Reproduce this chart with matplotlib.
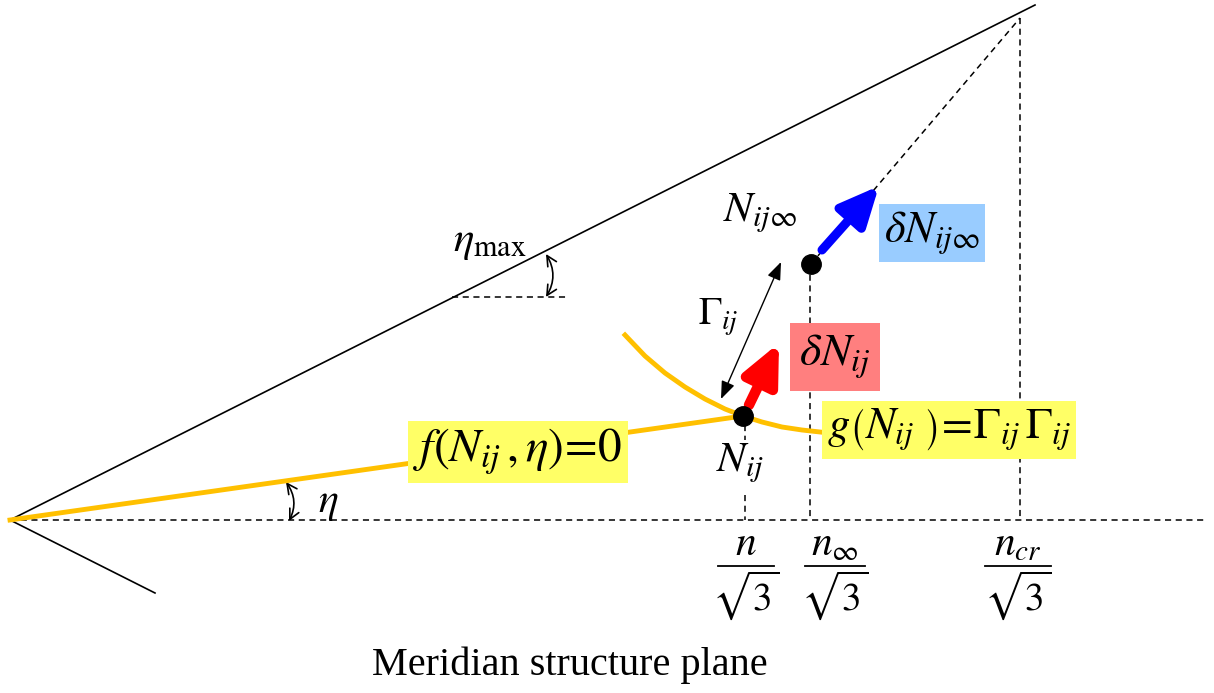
import matplotlib.pyplot as plt
from matplotlib.patches import FancyArrowPatch

plt.rcParams['mathtext.fontset'] = 'stix'
plt.rcParams['font.family'] = ['Liberation Serif', 'DejaVu Serif']

# key points of the diagram (pixel coords, y downward)
origin = (10, 520)
upper_end = (1035, 5)
lower_end = (155, 593)
apex = (1020, 18)
n_ij = (743, 416)
n_inf = (811, 264)
axis_end = 1205
x_marks = [745, 810, 1020]
frac_centers = [746, 835, 1018]
frac_half_widths = [28, 30, 33]
frac_nums = [r'$n$', r'$n_{\infty}$', r'$n_{cr}$']
g_curve_x = [625, 645, 665, 685, 705, 725, 743, 762, 782, 802, 820]
g_curve_y = [335, 356, 373, 387, 399, 409, 416, 422, 427, 430, 432]

fig = plt.figure(figsize=(12.14, 6.93), dpi=100)
ax = fig.add_axes([0, 0, 1, 1])
ax.set_xlim(0, 1214)
ax.set_ylim(693, 0)
ax.axis('off')

# solid boundary lines
ax.plot([origin[0], upper_end[0]], [origin[1], upper_end[1]], color='black', lw=1.2)
ax.plot([origin[0], lower_end[0]], [origin[1], lower_end[1]], color='black', lw=1.2)

# dashed construction lines
dash = dict(color='black', lw=1.1, ls=(0, (4, 3)))
ax.plot([origin[0], axis_end], [origin[1], origin[1]], **dash)
ax.plot([n_inf[0], apex[0]], [n_inf[1], apex[1]], **dash)
ax.plot([x_marks[2], x_marks[2]], [apex[1], origin[1]], **dash)
ax.plot([x_marks[1], x_marks[1]], [n_inf[1], origin[1]], **dash)
ax.plot([x_marks[0], x_marks[0]], [425, 440], **dash)
ax.plot([x_marks[0], x_marks[0]], [495, 520], **dash)
ax.plot([452, 568], [297, 297], **dash)

# yellow curves
ax.plot([origin[0], n_ij[0]], [origin[1], n_ij[1]], color='#FFC000', lw=3.5, zorder=3)
ax.plot(g_curve_x, g_curve_y, color='#FFC000', lw=3.5, zorder=3)

# points
ax.plot(*n_ij, 'o', color='black', ms=14, zorder=6)
ax.plot(*n_inf, 'o', color='black', ms=14, zorder=6)

# thick arrows
ax.add_patch(FancyArrowPatch((749, 405), (779, 343), arrowstyle='-|>,head_width=0.6,head_length=1.3',
                             mutation_scale=18, lw=7.5, color='#FF0000', zorder=5, shrinkA=0, shrinkB=0))
ax.add_patch(FancyArrowPatch((822, 250), (879, 186), arrowstyle='-|>,head_width=0.6,head_length=1.3',
                             mutation_scale=18, lw=6.5, color='#0000FF', zorder=5, shrinkA=0, shrinkB=0))

# gamma double arrow
ax.add_patch(FancyArrowPatch((721, 399), (781, 262), arrowstyle='<|-|>,head_width=0.35,head_length=0.9',
                             mutation_scale=12, lw=1, color='black', shrinkA=0, shrinkB=0))

# angle arcs
ax.add_patch(FancyArrowPatch((546, 254), (546, 297), arrowstyle='<->,head_width=0.3,head_length=0.6',
                             connectionstyle='arc3,rad=-0.3', mutation_scale=12, lw=1.2, color='black',
                             shrinkA=0, shrinkB=0))
ax.add_patch(FancyArrowPatch((286, 482), (289, 521), arrowstyle='<->,head_width=0.3,head_length=0.6',
                             connectionstyle='arc3,rad=-0.3', mutation_scale=12, lw=1.2, color='black',
                             shrinkA=0, shrinkB=0))

# labelled boxes
def boxed(x, y, s, fc, size=32, pad=0.12):
    ax.text(x, y, s, fontsize=size, ha='center', va='center', zorder=7,
            bbox=dict(boxstyle=f'square,pad={pad}', fc=fc, ec='none'))

boxed(518, 452, r'$f\left(N_{ij}\,,\eta\right)\!=\!0$', '#FFFF66', size=34)
boxed(949, 430, r'$g\left(N_{ij}\ \right)\!=\!\Gamma_{ij}\,\Gamma_{ij}$', '#FFFF66')
boxed(835, 357, r'$\delta N_{ij}$', '#FF7F7F', size=33, pad=0.2)
boxed(932, 233, r'$\delta N_{ij\infty}$', '#99CCFF')

# plain labels
ax.text(490, 243, r'$\eta_{\mathrm{max}}$', fontsize=31, ha='center', va='center')
ax.text(760, 213, r'$N_{ij\infty}$', fontsize=31, ha='center', va='center')
ax.text(718, 317, r'$\Gamma_{ij}$', fontsize=28, ha='center', va='center')
ax.text(740, 463, r'$N_{ij}$', fontsize=31, ha='center', va='center')
ax.text(328, 504, r'$\eta$', fontsize=30, ha='center', va='center')

# axis fractions: numerator / bar / sqrt(3)
for cx, hw, num in zip(frac_centers, frac_half_widths, frac_nums):
    ax.text(cx, 555, num, fontsize=30, ha='center', va='baseline')
    ax.plot([cx - hw, cx + hw], [566, 566], color='black', lw=1.3)
    ax.text(cx, 595, r'$\sqrt{3}$', fontsize=28, ha='center', va='center')

ax.text(570, 665, 'Meridian structure plane', fontsize=29, ha='center', va='center')

fig.savefig('out.png', dpi=100)
